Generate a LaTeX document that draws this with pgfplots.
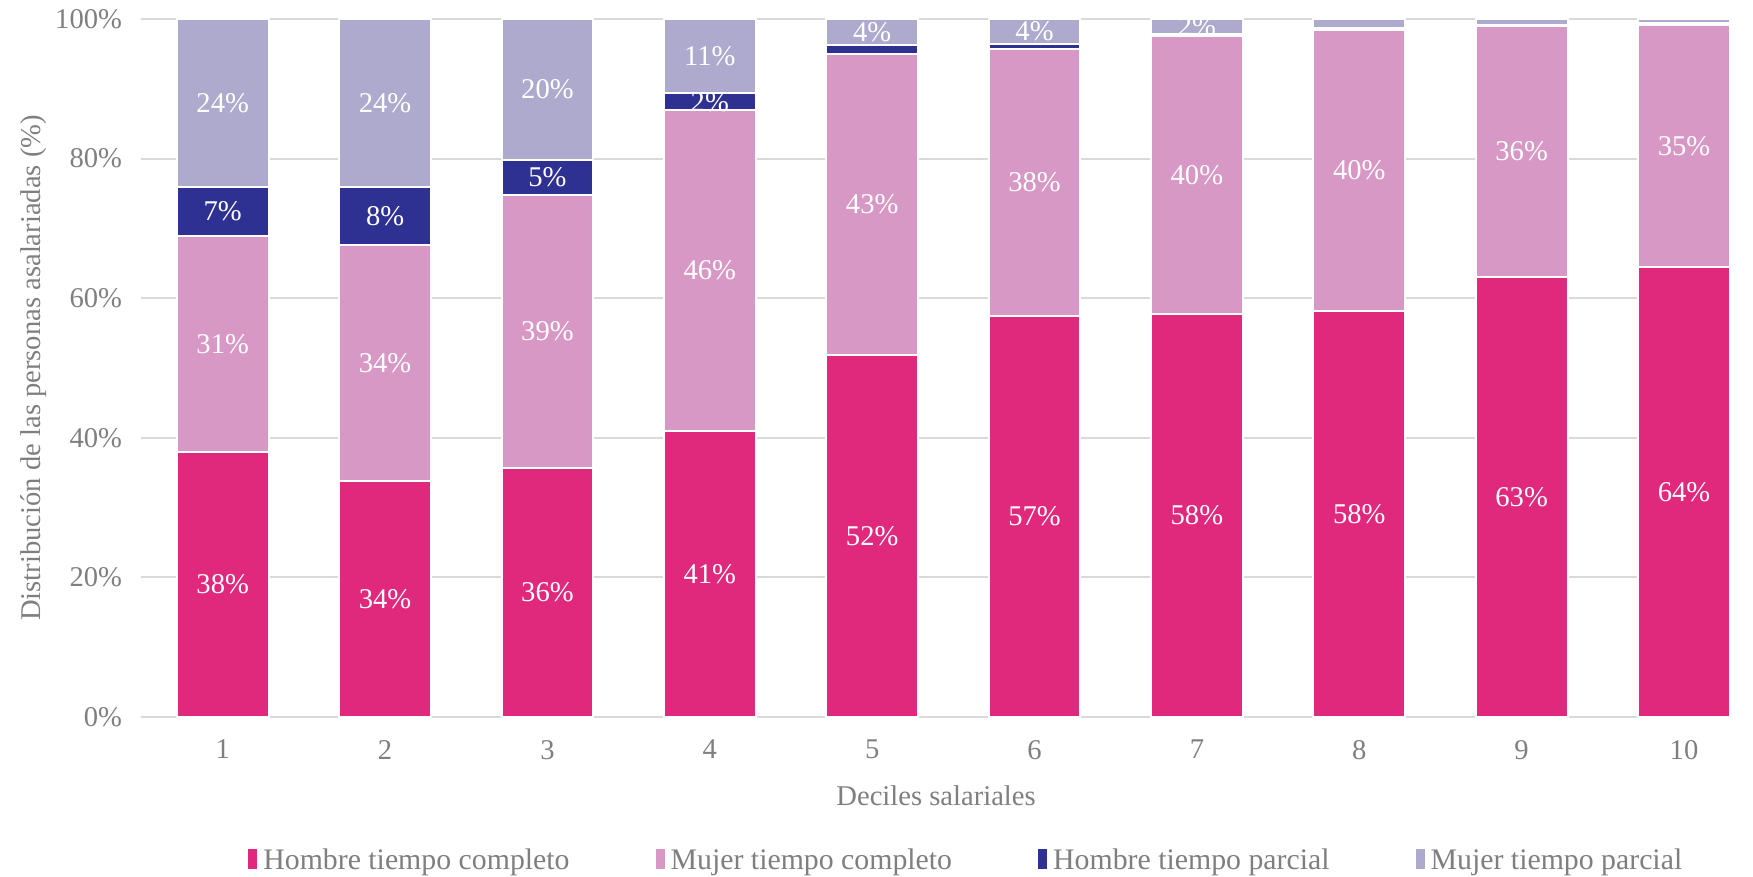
\documentclass[border=0pt]{standalone}
\usepackage{pgfplots}
\pgfplotsset{compat=1.18}
\usepackage{pgfplotstable}
\usepackage{fontspec}
\setmainfont{Liberation Serif}
\definecolor{htc}{HTML}{E0287D}
\definecolor{mtc}{HTML}{D898C5}
\definecolor{htp}{HTML}{2E3192}
\definecolor{mtp}{HTML}{AEAACE}
\definecolor{txt}{HTML}{7F7F7F}
\definecolor{gridc}{HTML}{D9D9D9}

\pgfplotstableread{
x htc mtc htp mtp
1 38.0 30.9 7.1 24.0
2 33.8 33.8 8.3 24.1
3 35.7 39.1 5.0 20.2
4 41.0 45.9 2.5 10.6
5 51.8 43.2 1.3 3.7
6 57.4 38.3 0.7 3.6
7 57.7 39.9 0.3 2.1
8 58.2 40.2 0.3 1.3
9 63.0 36.0 0.15 0.85
10 64.4 34.8 0.2 0.6
}\datatable

% label positions (segment midpoints) and label text
\pgfplotstableread{
x y label
1 19.0 38
2 16.9 34
3 17.85 36
4 20.5 41
5 25.9 52
6 28.7 57
7 28.85 58
8 29.1 58
9 31.5 63
10 32.2 64
1 53.45 31
2 50.7 34
3 55.25 39
4 63.95 46
5 73.4 43
6 76.55 38
7 77.65 40
8 78.3 40
9 81.0 36
10 81.8 35
1 72.45 7
2 71.75 8
3 77.3 5
4 88.15 2
1 88.0 24
2 87.95 24
3 89.9 20
4 94.7 11
5 98.15 4
6 98.2 4
7 98.95 2
}\labeltable

\begin{document}
\begin{tikzpicture}[font=\fontsize{14.3}{17}\selectfont]
\begin{axis}[
  scale only axis, width=795pt, height=349pt,
  xmin=0.497, xmax=10.29, ymin=0, ymax=100,
  ybar stacked, bar width=0.565,
  axis line style={draw=none},
  ymajorgrids, grid style={gridc, line width=1pt},
  xtick={1,...,10}, ytick={0,20,...,100},
  tick style={draw=none},
  /pgf/number format/assume math mode=true,
  yticklabel={\pgfmathprintnumber{\tick}\%},
  ticklabel style={text=txt},
  yticklabel style={xshift=-6pt},
  xticklabel style={yshift=-8pt},
  xlabel={Deciles salariales},
  ylabel={Distribución de las personas asalariadas (\%)},
  label style={text=txt},
  xlabel style={at={(rel axis cs:0.5,-0.113)}, anchor=center},
  ylabel style={at={(rel axis cs:-0.0676,0.5)}, anchor=center},
  legend columns=4,
  legend style={at={(rel axis cs:0.519,-0.206)}, anchor=center, draw=none,
    text=txt, inner sep=0pt, nodes={inner sep=1pt},
    font=\fontsize{14.9}{17}\selectfont,
    /tikz/every odd column/.append style={column sep=2pt},
    /tikz/every even column/.append style={column sep=42pt}},
  legend image code/.code={\fill[#1, draw=none] (0cm,-0.14cm) rectangle (0.16cm,0.2cm);},
  clip=false,
]
\addplot[fill=htc, draw=white, line width=1pt] table[x=x,y=htc]{\datatable};
\addlegendentry{Hombre tiempo completo}
\addplot[fill=mtc, draw=white, line width=1pt] table[x=x,y=mtc]{\datatable};
\addlegendentry{Mujer tiempo completo}
\addplot[fill=htp, draw=white, line width=1pt] table[x=x,y=htp]{\datatable};
\addlegendentry{Hombre tiempo parcial}
\addplot[fill=mtp, draw=white, line width=1pt] table[x=x,y=mtp]{\datatable};
\addlegendentry{Mujer tiempo parcial}
\path (rel axis cs:-0.0887,-0.2278) rectangle (rel axis cs:1.0138,1.0272);
\end{axis}
\begin{axis}[
  scale only axis, width=795pt, height=349pt,
  xmin=0.497, xmax=10.29, ymin=0, ymax=100,
  hide axis, clip=false,
]
\addplot[only marks, mark=*, mark size=0pt, mark options={draw=none, fill=none},
  point meta=explicit symbolic,
  nodes near coords={\pgfplotspointmeta\%},
  every node near coord/.append style={anchor=center, text=white, inner sep=0pt}]
  table[x=x, y=y, meta=label]{\labeltable};
\end{axis}
\end{tikzpicture}
\end{document}
